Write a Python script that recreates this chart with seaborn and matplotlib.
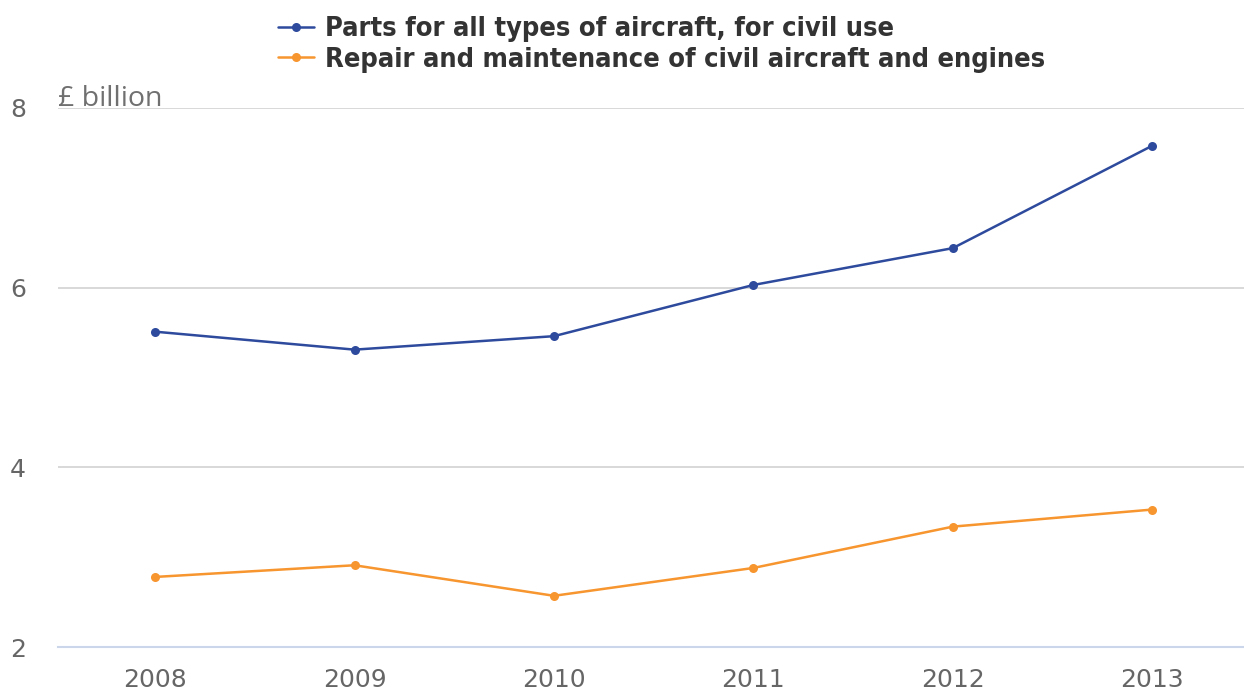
import matplotlib
matplotlib.use("Agg")
import matplotlib.pyplot as plt
import seaborn as sns
import pandas as pd

years = ["2008", "2009", "2010", "2011", "2012", "2013"]
parts_civil = [5.51, 5.31, 5.46, 6.03, 6.44, 7.58]
repair_maint = [2.78, 2.91, 2.57, 2.88, 3.34, 3.53]
series_names = [
    "Parts for all types of aircraft, for civil use",
    "Repair and maintenance of civil aircraft and engines",
]
y_ticks = [2, 4, 6, 8]
unit_label = "£ billion"

df = pd.DataFrame({
    "year": years * 2,
    "value": parts_civil + repair_maint,
    "series": [series_names[0]] * len(years) + [series_names[1]] * len(years),
})

sns.set_theme(style="white")
plt.rcParams["font.family"] = ["DejaVu Sans"]

fig = plt.figure(figsize=(12.44, 6.9), dpi=100)
ax = fig.add_axes([0.0466, 0.0623, 0.9534, 0.7812])

palette = {series_names[0]: "#2d4a9d", series_names[1]: "#f7952f"}
sns.lineplot(data=df, x="year", y="value", hue="series", palette=palette,
             marker="o", markersize=6.5, markeredgewidth=0, linewidth=1.8,
             sort=False, ax=ax)

ax.set_xlim(-0.487, 5.46)
ax.set_ylim(2, 8)
ax.set_yticks(y_ticks)
ax.yaxis.grid(True, color="#d6d6d6", linewidth=1.3)
ax.xaxis.grid(False)
for side in ["top", "right", "left"]:
    ax.spines[side].set_visible(False)
ax.spines["bottom"].set_color("#ccd6eb")
ax.spines["bottom"].set_linewidth(1.5)
ax.tick_params(axis="x", length=10, width=1.5, color="#ccd6eb",
               labelsize=18, labelcolor="#666666", pad=5, direction="out")
ax.tick_params(axis="y", length=0, labelsize=18, labelcolor="#666666", pad=23)
ax.set_xlabel("")
ax.set_ylabel("")
ax.text(0.0, 8.02, unit_label, transform=ax.get_yaxis_transform(),
        fontsize=20.5, family="Open Sans", color="#707070",
        ha="left", va="baseline")

leg = ax.legend(loc="lower left", bbox_to_anchor=(0.176, 1.045), frameon=False,
                prop={"family": "DejaVu Sans", "weight": "bold",
                      "stretch": "condensed", "size": 19.5},
                handlelength=1.35, handletextpad=0.4, labelspacing=0.17,
                borderaxespad=0)
for t in leg.get_texts():
    t.set_color("#333333")

fig.savefig("out.png", dpi=100)
